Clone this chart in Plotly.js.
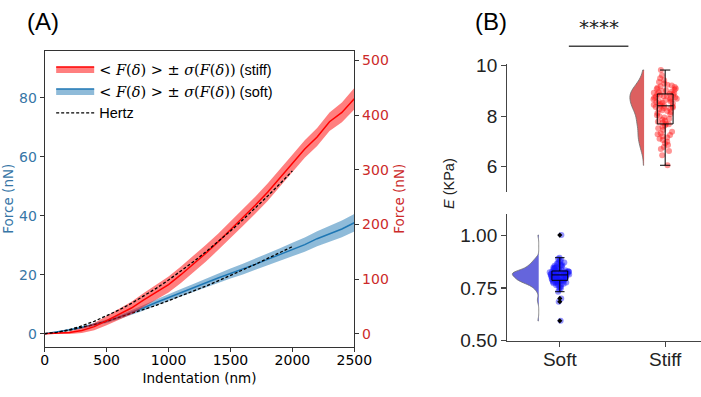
<!DOCTYPE html>
<html><head><meta charset="utf-8">
<script src="https://cdn.plot.ly/plotly-3.0.1.min.js"></script>
<style>html,body{margin:0;padding:0;background:#fff}#chart{width:701px;height:397px}</style>
</head><body><div id="chart"></div>
<script>
// ---- Panel A data (indentation in nm, force in nN) ----
const indentation = [0,100,200,300,400,500,600,700,800,900,1000,1100,1200,1300,1400,1500,1600,1700,1800,1900,2000,2100,2200,2300,2400,2500];
const softMean  = [0,0.6,1.3,2.1,3.1,4.2,5.6,7.1,8.8,10.6,12.3,13.9,15.5,17.2,18.9,20.4,21.9,23.5,25.2,26.8,28.5,30.2,32.2,33.8,35.5,37.6];
const softStd   = [0,0.2,0.3,0.4,0.5,0.6,0.7,0.8,0.9,1.0,1.15,1.25,1.35,1.45,1.55,1.7,1.8,1.9,2.0,2.15,2.3,2.4,2.55,2.7,2.85,3.0];
const stiffMean = [0,0.5,2,6,13,24,35,47,62,76,90,108,127,147,168,190,212,235,259,285,312,338,360,388,405,430];
const stiffStd  = [0,1,2.5,4.5,6.5,8.5,10,11.5,12.5,13.5,14.5,15,15,15.5,15,15.5,15,15.5,16,15.5,15.5,16,16.5,17,18,19.5];
const hertzIndentation = [0,100,200,300,400,500,600,700,800,900,1000,1100,1200,1300,1400,1500,1600,1700,1800,1900,2000];
const hertzStiff = [0,2.5,7.5,14.3,22.7,32.4,43.4,55.5,68.8,83,98.3,114.5,131.6,149.6,168.4,188.1,208.5,229.8,251.8,274.5,298];
const hertzSoft  = [0,0.4,1.2,2.1,3.1,4.2,5.5,6.8,8.2,9.6,11.2,12.8,14.4,16.1,17.9,19.7,21.6,23.5,25.5,27.5,29.5];

// ---- Panel B data (Young's modulus, KPa) ----
const groupLabels = ['Soft','Stiff'];
const softE = [0.594,0.685,0.70,0.732,0.741,0.748,0.752,0.757,0.760,0.763,0.766,0.768,0.770,0.772,0.774,0.776,0.777,0.778,0.779,0.780,0.781,0.782,0.783,0.784,0.785,
  0.787,0.788,0.789,0.790,0.791,0.792,0.793,0.794,0.795,0.796,0.797,0.798,0.799,0.800,0.801,0.802,0.803,0.804,0.805,0.806,0.807,0.808,0.809,0.810,0.811,
  0.812,0.813,0.813,0.814,0.815,0.816,0.817,0.818,0.818,0.819,0.820,0.821,0.822,0.822,0.823,0.824,0.825,0.825,0.826,0.827,0.827,0.828,0.828,0.829,0.829,
  0.831,0.833,0.835,0.837,0.839,0.841,0.843,0.845,0.846,0.847,0.850,0.852,0.855,0.856,0.858,0.861,0.864,0.867,0.870,0.874,0.878,0.883,0.888,0.893,1.00];
const stiffE = [6.05,6.45,6.62,6.70,6.78,6.85,6.92,6.98,7.05,7.10,7.15,7.20,7.25,7.28,7.32,7.38,7.45,7.52,7.58,7.63,7.68,
  7.70,7.74,7.78,7.82,7.86,7.90,7.95,8.00,8.04,8.08,8.12,8.16,8.20,8.23,8.26,8.29,8.32,8.34,8.36,8.38,8.40,
  8.42,8.45,8.48,8.50,8.53,8.55,8.58,8.60,8.62,8.65,8.67,8.69,8.71,8.73,8.75,8.77,8.79,8.81,8.83,8.85,8.87,
  8.89,8.91,8.93,8.95,8.97,9.00,9.02,9.05,9.08,9.10,9.13,9.16,9.19,9.22,9.25,9.30,9.36,9.42,9.50,9.62,9.83];

const BLUE = '#1f77b4', RED = '#ff0000';
const BLUE_TXT = '#3776a6', RED_TXT = '#cc2a2a';
const sub = (a,b)=>a.map((v,i)=>v-b[i]);
const add = (a,b)=>a.map((v,i)=>v+b[i]);

const math = '<span style="font-family:\'DejaVu Serif\'">&lt; <i>F</i>(<i>δ</i>) &gt; ± <i>σ</i>(<i>F</i>(<i>δ</i>))</span>';

const traces = [
  // soft (left axis)
  {x: indentation, y: sub(softMean, softStd), xaxis:'x', yaxis:'y', mode:'lines', line:{width:0, color:BLUE}, showlegend:false, hoverinfo:'skip'},
  {x: indentation, y: softMean, xaxis:'x', yaxis:'y', mode:'lines', line:{width:1.5, color:BLUE}, fill:'tonexty', fillcolor:'rgba(31,119,180,0.5)', name: math + ' (soft)', legendrank:2},
  {x: indentation, y: add(softMean, softStd), xaxis:'x', yaxis:'y', mode:'lines', line:{width:0, color:BLUE}, fill:'tonexty', fillcolor:'rgba(31,119,180,0.5)', showlegend:false, hoverinfo:'skip'},
  {x: hertzIndentation, y: hertzSoft, xaxis:'x', yaxis:'y', mode:'lines', line:{width:1.3, color:'#000', dash:'3px,2px'}, name:'Hertz', legendrank:3},
  // stiff (right axis)
  {x: indentation, y: sub(stiffMean, stiffStd), xaxis:'x', yaxis:'y2', mode:'lines', line:{width:0, color:RED}, showlegend:false, hoverinfo:'skip'},
  {x: indentation, y: stiffMean, xaxis:'x', yaxis:'y2', mode:'lines', line:{width:1.5, color:RED}, fill:'tonexty', fillcolor:'rgba(255,0,0,0.5)', name: math + ' (stiff)', legendrank:1},
  {x: indentation, y: add(stiffMean, stiffStd), xaxis:'x', yaxis:'y2', mode:'lines', line:{width:0, color:RED}, fill:'tonexty', fillcolor:'rgba(255,0,0,0.5)', showlegend:false, hoverinfo:'skip'},
  {x: hertzIndentation, y: hertzStiff, xaxis:'x', yaxis:'y2', mode:'lines', line:{width:1.3, color:'#000', dash:'3px,2px'}, showlegend:false},

  // Panel B: half violins
  {type:'violin', y: softE, x0: -0.2, xaxis:'x2', yaxis:'y3', side:'negative', width:0.5, points:false, box:{visible:false}, meanline:{visible:false},
   spanmode:'hard', bandwidth:0.012, fillcolor:'#6565dc', line:{color:'rgba(110,110,110,0.8)', width:1}, opacity:1, showlegend:false, hoverinfo:'skip'},
  {type:'violin', y: stiffE, x0: 0.8, xaxis:'x2', yaxis:'y4', side:'negative', width:0.27, points:false, box:{visible:false}, meanline:{visible:false},
   spanmode:'hard', bandwidth:0.22, fillcolor:'#dc6060', line:{color:'rgba(110,110,110,0.8)', width:1}, opacity:1, showlegend:false, hoverinfo:'skip'},
  // jittered points
  {type:'box', y: softE, x0: 0, xaxis:'x2', yaxis:'y3', width:0.22, boxpoints:'all', jitter:1, pointpos:0, whiskerwidth:0,
   line:{width:0, color:'rgba(0,0,0,0)'}, fillcolor:'rgba(0,0,0,0)', marker:{color:'rgba(20,20,255,0.45)', size:6}, showlegend:false, hoverinfo:'skip'},
  {type:'box', y: stiffE, x0: 1, xaxis:'x2', yaxis:'y4', width:0.24, boxpoints:'all', jitter:1, pointpos:0, whiskerwidth:0,
   line:{width:0, color:'rgba(0,0,0,0)'}, fillcolor:'rgba(0,0,0,0)', marker:{color:'rgba(255,20,20,0.45)', size:6}, showlegend:false, hoverinfo:'skip'},
  // box plots with fliers
  {type:'box', y: softE, x0: 0, xaxis:'x2', yaxis:'y3', width:0.15, boxpoints:'outliers', jitter:0, pointpos:0, whiskerwidth:0.6,
   line:{width:1, color:'#000'}, fillcolor:'rgba(0,0,0,0)', marker:{color:'#000', size:4, symbol:'diamond'}, showlegend:false, hoverinfo:'skip'},
  {type:'box', y: stiffE, x0: 1, xaxis:'x2', yaxis:'y4', width:0.15, boxpoints:'outliers', jitter:0, pointpos:0, whiskerwidth:0.65,
   line:{width:1, color:'#000'}, fillcolor:'rgba(0,0,0,0)', marker:{color:'#000', size:4, symbol:'diamond'}, showlegend:false, hoverinfo:'skip'}
];

const fA = {family:'DejaVu Sans', size:14, color:'#000'};
const fB = {family:'Liberation Sans, Arial', size:19, color:'#222'};
const axLine = '#333';

const layout = {
  width:701, height:397, margin:{l:0,r:0,t:0,b:0}, paper_bgcolor:'#fff', plot_bgcolor:'rgba(0,0,0,0)',
  showlegend:true,
  legend:{x:0.073, y:0.866, xanchor:'left', yanchor:'top', traceorder:'normal', bgcolor:'rgba(0,0,0,0)', font:{family:'Liberation Sans, Arial', size:14.5, color:'#000'}, itemwidth:38, tracegroupgap:0},
  xaxis:{domain:[0.0638,0.5054], range:[0,2500], tickvals:[0,500,1000,1500,2000,2500], ticks:'outside', ticklen:4, tickcolor:axLine,
         showline:true, linecolor:axLine, linewidth:1, mirror:true, showgrid:false, zeroline:false, tickfont:fA, ticklabelstandoff:-4,
         title:{text:'Indentation (nm)', font:{family:'DejaVu Sans', size:13.5, color:'#000'}, standoff:7}, anchor:'y'},
  yaxis:{domain:[0.1267,0.8723], range:[-4.4,95.9], tickvals:[0,20,40,60,80], ticks:'outside', ticklen:4, tickcolor:axLine,
         showline:true, linecolor:axLine, linewidth:1, showgrid:false, zeroline:false, tickfont:{family:'DejaVu Sans', size:14, color:BLUE_TXT},
         title:{text:'Force (nN)', font:{family:'DejaVu Sans', size:13.5, color:BLUE_TXT}, standoff:6}, anchor:'x'},
  yaxis2:{overlaying:'y', side:'right', anchor:'x', range:[-23.8,518], tickvals:[0,100,200,300,400,500], ticks:'outside', ticklen:4, tickcolor:axLine,
         showline:true, linecolor:axLine, linewidth:1, showgrid:false, zeroline:false, tickfont:{family:'DejaVu Sans', size:14, color:RED_TXT},
         title:{text:'Force (nN)', font:{family:'DejaVu Sans', size:13.5, color:RED_TXT}, standoff:6}},
  xaxis2:{domain:[0.7237,1.0], range:[-0.498,1.34], tickvals:[0,1], ticktext:groupLabels, ticks:'outside', ticklen:5, tickcolor:'#444', tickwidth:1.2,
          showline:true, linecolor:'#444', linewidth:1.3, showgrid:false, zeroline:false, tickfont:fB, anchor:'y3', ticklabelstandoff:-4},
  yaxis3:{domain:[0.1418,0.461], range:[0.5,1.1], tickvals:[0.5,0.75,1.0], ticktext:['0.50','0.75','1.00'], ticks:'outside', ticklen:5, tickcolor:'#444', tickwidth:1.2,
          showline:true, linecolor:'#444', linewidth:1.3, showgrid:false, zeroline:false, tickfont:fB, anchor:'x2'},
  yaxis4:{domain:[0.5171,0.8388], range:[5.0,10.07], tickvals:[6,8,10], ticks:'outside', ticklen:5, tickcolor:'#444', tickwidth:1.2,
          showline:true, linecolor:'#444', linewidth:1.3, showgrid:false, zeroline:false, tickfont:fB, anchor:'x2'},
  violinmode:'overlay', boxmode:'overlay',
  shapes:[{type:'line', xref:'x2', yref:'paper', x0:0.086, x1:0.651, y0:0.8834, y1:0.8834, line:{color:'#444', width:1.5}}],
  annotations:[
    {text:'(A)', xref:'paper', yref:'paper', x:0.062, y:0.9446, xanchor:'center', yanchor:'middle', showarrow:false, font:{family:'Liberation Sans, Arial', size:24, color:'#000'}},
    {text:'(B)', xref:'paper', yref:'paper', x:0.7004, y:0.9446, xanchor:'center', yanchor:'middle', showarrow:false, font:{family:'Liberation Sans, Arial', size:24, color:'#000'}},
    {text:'****', xref:'x2', yref:'paper', x:0.369, y:0.932, xanchor:'center', yanchor:'middle', showarrow:false, font:{family:'DejaVu Sans', size:20, color:'#222'}},
    {text:'<i>E</i> (KPa)', xref:'paper', yref:'paper', x:0.6405, y:0.539, xanchor:'center', yanchor:'middle', textangle:-90, showarrow:false, font:{family:'Liberation Sans, Arial', size:14.5, color:'#222'}}
  ]
};

Plotly.newPlot('chart', traces, layout, {displayModeBar:false, staticPlot:true});
</script>
</body></html>
